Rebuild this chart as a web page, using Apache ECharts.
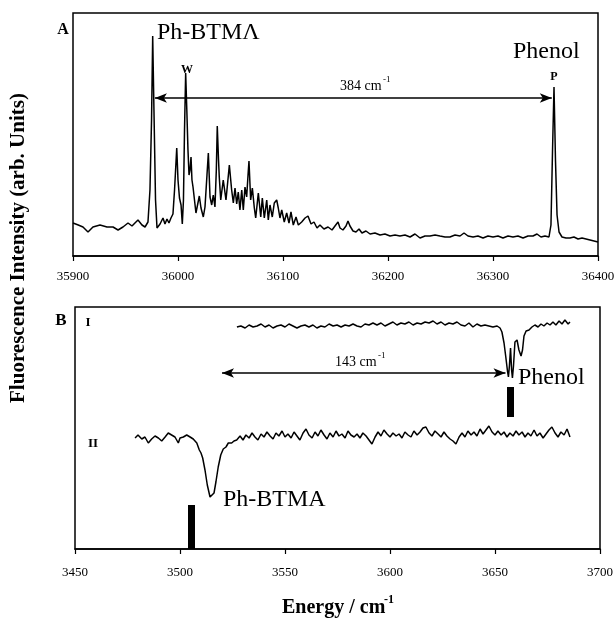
<!DOCTYPE html>
<html>
<head>
<meta charset="utf-8">
<script src="https://cdn.jsdelivr.net/npm/echarts@6/dist/echarts.min.js"></script>
<style>
html,body{margin:0;padding:0;background:#fff;}
#chart{width:614px;height:619px;}
</style>
</head>
<body>
<div id="chart"></div>
<script>
// panel A - fluorescence excitation spectrum (energy in cm-1, arb. intensity)
var energyA = [35900,35905,35909.5,35914.3,35919,35925.7,35932.4,35938.1,35942.9,35947.6,
    35952.4,35956.2,35959,35961.9,35965.7,35968.6,35971.4,35973.3,35974.8,35975.9,
    35977.1,35978.6,35980,35982.9,35985.7,35987.6,35989.5,35991.4,35993.3,35995.2,
    35996.7,35998.8,36000,36001.4,36002.9,36004.1,36005.2,36006.2,36007.3,36008.4,
    36009.5,36010.5,36011.4,36012.4,36013.3,36014.3,36015.7,36017.1,36020.3,36021.9,
    36024.1,36025.7,36027.6,36028.9,36030.5,36032.1,36033.6,36035.2,36036.5,36037.4,
    36038.6,36039.3,36040.7,36043.1,36045.7,36048.9,36051.1,36052.7,36054.3,36055.9,
    36057.4,36059,36060.7,36062.2,36063.8,36065.4,36066.7,36067.6,36069.2,36070.8,
    36072.7,36074,36076.5,36078.8,36080.3,36082.2,36084.5,36086,36087.6,36089.8,
    36091.7,36094,36095.5,36097.1,36098.8,36101.2,36103.5,36105.7,36107.6,36109.8,
    36112.4,36114.6,36117.8,36121,36123.8,36126.7,36129.5,36132.4,36135.2,36139,
    36142.9,36146.7,36149.5,36152.4,36154.3,36157.1,36160,36161.9,36163.8,36166.7,
    36169.5,36172.4,36175.2,36179,36182.9,36187.6,36192.4,36197.1,36201.9,36206.7,
    36211.4,36216.2,36221,36225.7,36230.5,36235.2,36240,36244.8,36249.5,36254.3,
    36259,36263.8,36268.6,36272.4,36276.2,36281,36285.7,36290.5,36295.2,36300,
    36304.8,36309.5,36314.3,36319,36323.8,36328.6,36333.3,36338.1,36341.9,36345.7,
    36349.5,36353.3,36355.2,36356.7,36358.1,36359.5,36361,36362.9,36365.7,36369.5,
    36373.3,36377.1,36381,36384.8,36388.6,36392.4,36396.2,36400];
var intensA = [33,31,29,24,29,31,29,29,26,29,
    33,30,33,36,31,29,34,66,136,220,
    146,56,28,32,38,32,37,33,38,42,
    66,108,76,58,51,32,56,126,183,146,
    106,81,86,99,76,69,56,43,60,48,
    39,49,81,103,59,51,61,49,86,130,
    96,79,56,76,56,91,66,53,68,52,
    64,46,66,46,69,59,81,95,56,68,
    48,38,63,39,58,38,56,36,51,39,
    53,56,48,38,46,34,43,33,44,31,
    39,31,34,38,40,32,34,28,31,27,
    29,26,30,34,28,26,30,35,30,25,
    24,27,23,25,22,23,21,22,20,21,
    20,21,19,22,18,20,20,21,20,19,
    19,21,20,23,20,19,20,18,20,19,
    20,18,20,19,20,18,20,20,22,19,
    20,19,31,106,169,96,41,24,19,18,
    18,19,17,18,17,16,15,14];

// panel B trace I (phenol)
var waveI = [3527.1,3529.0,3531.0,3532.9,3534.8,3536.7,3538.6,3540.5,3542.4,3544.3,
    3546.2,3548.1,3550,3551.9,3553.8,3555.7,3557.6,3559.5,3561.4,3563.3,
    3565.2,3567.1,3569.0,3571.0,3572.9,3574.8,3576.7,3578.6,3580.5,3582.4,
    3584.3,3586.2,3588.1,3590,3591.9,3593.8,3595.7,3597.6,3599.5,3601.4,
    3603.3,3605.2,3607.1,3609.0,3611.0,3612.9,3614.8,3616.7,3618.6,3620.5,
    3622.4,3624.3,3626.2,3628.1,3630,3631.9,3633.8,3635.7,3637.6,3639.5,
    3641.4,3643.3,3645.2,3647.1,3649.0,3651.0,3652.4,3653.3,3654.3,3655.2,
    3656.0,3656.4,3656.9,3657.4,3657.9,3658.3,3658.8,3659.5,3660.5,3661.4,
    3662.4,3663.1,3663.8,3664.8,3666.2,3667.6,3669.0,3670.5,3671.9,3673.3,
    3674.8,3676.2,3677.6,3679.0,3680.5,3681.9,3683.3,3684.8,3685.7];
var intensI = [222,223,221,224,222,223,225,222,224,221,
    223,224,222,225,223,221,223,224,222,224,
    221,223,222,225,223,224,222,224,223,225,
    223,222,225,224,226,224,226,223,225,227,
    224,226,225,227,224,226,225,227,226,228,
    225,227,224,226,225,227,224,223,226,222,
    225,223,224,223,222,223,221,217,206,191,
    177,172,184,201,179,171,183,207,209,199,
    193,199,213,218,219,222,224,222,225,223,
    226,224,227,224,228,225,229,225,227];

// panel B trace II (Ph-BTMA)
var waveII = [3478.6,3480.0,3481.8,3483.3,3484.9,3486.5,3488.1,3489.7,3491.3,3492.9,
    3494.4,3496.0,3497.6,3499.2,3500,3501.6,3503.2,3504.8,3506.3,3508.0,
    3509.2,3510,3510.8,3511.9,3513.0,3514.3,3515.1,3516.2,3517.1,3518.2,
    3519.4,3520.6,3521.9,3523.0,3524.6,3525.7,3527.0,
    3528.6,3530.0,3531.4,3532.9,3534.3,3535.7,3537.1,3538.6,3540.0,3541.4,
    3542.9,3544.3,3545.7,3547.1,3548.6,3550.0,3551.4,3552.9,3554.3,3555.7,
    3557.1,3558.6,3560.0,3561.4,3562.9,3564.3,3565.7,3567.1,3568.6,3570.0,
    3571.4,3572.9,3574.3,3575.7,3577.1,3578.6,3580.0,3581.4,3582.9,3584.3,
    3585.7,3587.1,3588.6,3590.0,3591.4,3592.9,3594.3,3595.7,3597.1,3598.6,
    3600.0,3601.4,3602.9,3604.3,3605.7,3607.1,3608.6,3610.0,3611.4,3612.9,
    3614.3,3615.7,3617.1,3618.6,3620.0,3621.4,3622.9,3624.3,3625.7,3627.1,
    3628.6,3630.0,3631.4,3632.9,3634.3,3635.7,3637.1,3638.6,3640.0,3641.4,
    3642.9,3644.3,3645.7,3647.1,3648.6,3650.0,3651.4,3652.9,3654.3,3655.7,
    3657.1,3658.6,3660.0,3661.4,3662.9,3664.3,3665.7,3667.1,3668.6,3670.0,
    3671.4,3672.9,3674.3,3675.7,3677.1,3678.6,3680.0,3681.4,3682.9,3684.3,
    3685.7];
var intensII = [111,114,110,112,106,110,113,111,108,112,
    116,114,112,106,111,112,114,112,110,106,
    99,96,91,79,64,52,51,56,67,82,
    94,100,102,106,106,108,109,
    113,109,114,111,116,112,109,115,112,117,
    113,110,116,113,118,112,115,111,117,113,
    109,116,120,114,111,117,113,119,114,110,
    116,112,118,113,115,111,118,114,112,115,
    111,116,113,109,105,112,117,113,119,115,
    112,116,113,115,111,117,114,112,118,114,
    117,121,122,116,113,118,115,112,117,113,
    110,108,105,112,116,112,118,114,117,113,
    120,115,119,123,117,114,118,114,117,112,
    116,113,118,114,117,112,116,113,119,113,
    116,111,115,119,122,116,112,117,114,120,
    112];

// double arrows: [from, to, level]
var arrowA = [35978, 36356, 158];
var arrowB = [3520, 3655, 176];
// stick markers: [position, bottom, top]
var sticks = [[3505.5, 0, 44], [3657.1, 132, 162]];

function pairs(xs, ys){
    var out = [];
    for (var i = 0; i < xs.length; i++){
        out.push([xs[i], ys[i]]);
    }
    return out;
}

var serif = "'Liberation Serif', 'Times New Roman', serif";

function xAxisCfg(idx, min, max, step, margin){
    return {
        type: 'value', gridIndex: idx, min: min, max: max, interval: step,
        axisLine: {show: true, lineStyle: {color: '#000', width: 1.5}},
        axisTick: {show: true, inside: false, length: 5, lineStyle: {color: '#000', width: 1.2}},
        axisLabel: {color: '#000', fontFamily: serif, fontSize: 13, margin: margin,
            showMinLabel: true, showMaxLabel: true,
            formatter: function(v){ return String(v); }},
        splitLine: {show: false}
    };
}

function arrowLine(a){
    return {
        silent: true,
        symbol: ['arrow', 'arrow'],
        symbolSize: [7, 12],
        label: {show: false},
        lineStyle: {color: '#000', width: 1.5, type: 'solid'},
        data: [[{coord: [a[0], a[2]]}, {coord: [a[1], a[2]]}]]
    };
}

function txt(x, y, s, size, bold, align){
    return {
        type: 'text', x: x, y: y, silent: true,
        style: {
            text: s, fill: '#000',
            font: (bold ? 'bold ' : '') + size + 'px ' + serif,
            align: align || 'left', verticalAlign: 'middle'
        }
    };
}

var stickData = [];
for (var k = 0; k < sticks.length; k++){
    stickData.push([{coord: [sticks[k][0], sticks[k][1]], symbol: 'none'},
                    {coord: [sticks[k][0], sticks[k][2]], symbol: 'none'}]);
}

var Chart = echarts.init(document.getElementById('chart'));

var yLabel = txt(19, 248, 'Fluorescence Intensity (arb. Units)', 21, true, 'center');
yLabel.rotation = Math.PI / 2;

var option = {
    animation: false,
    backgroundColor: '#fff',
    grid: [
        {left: 73, top: 13, right: 16, height: 243, show: true, borderColor: '#000', borderWidth: 1.5, outerBoundsMode: 'none'},
        {left: 75, top: 307, right: 14, height: 242, show: true, borderColor: '#000', borderWidth: 1.5, outerBoundsMode: 'none'}
    ],
    xAxis: [
        xAxisCfg(0, 35900, 36400, 100, 14),
        xAxisCfg(1, 3450, 3700, 50, 17)
    ],
    yAxis: [
        {type: 'value', gridIndex: 0, min: 0, max: 243, show: false},
        {type: 'value', gridIndex: 1, min: 0, max: 242, show: false}
    ],
    series: [
        {
            type: 'line', xAxisIndex: 0, yAxisIndex: 0,
            data: pairs(energyA, intensA),
            showSymbol: false,
            lineStyle: {color: '#000', width: 1.5},
            markLine: arrowLine(arrowA)
        },
        {
            type: 'line', xAxisIndex: 1, yAxisIndex: 1,
            data: pairs(waveI, intensI),
            showSymbol: false,
            lineStyle: {color: '#000', width: 1.5},
            markLine: arrowLine(arrowB)
        },
        {
            type: 'line', xAxisIndex: 1, yAxisIndex: 1,
            data: pairs(waveII, intensII),
            showSymbol: false,
            lineStyle: {color: '#000', width: 1.5},
            markLine: {
                silent: true,
                symbol: 'none',
                label: {show: false},
                lineStyle: {color: '#000', width: 7, type: 'solid'},
                data: stickData
            }
        }
    ],
    graphic: [
        txt(63, 30, 'A', 16, true, 'center'),
        txt(157, 33, 'Ph-BTM\u039B', 24, false),
        txt(187, 70, 'W', 12, true, 'center'),
        txt(340, 86, '384 cm', 14, false),
        txt(383, 80, '-1', 9, false),
        txt(554, 77, 'P', 12, true, 'center'),
        txt(513, 52, 'Phenol', 24, false),
        txt(61, 321, 'B', 17, true, 'center'),
        txt(88, 323, 'I', 13, true, 'center'),
        txt(93, 444, 'II', 13, true, 'center'),
        txt(335, 362, '143 cm', 14, false),
        txt(378, 356, '-1', 9, false),
        txt(518, 378, 'Phenol', 24, false),
        txt(223, 500, 'Ph-BTMA', 24, false),
        yLabel,
        txt(282, 608, 'Energy / cm', 20, true),
        txt(384, 600, '-1', 12, true)
    ]
};

Chart.setOption(option);
</script>
</body>
</html>
